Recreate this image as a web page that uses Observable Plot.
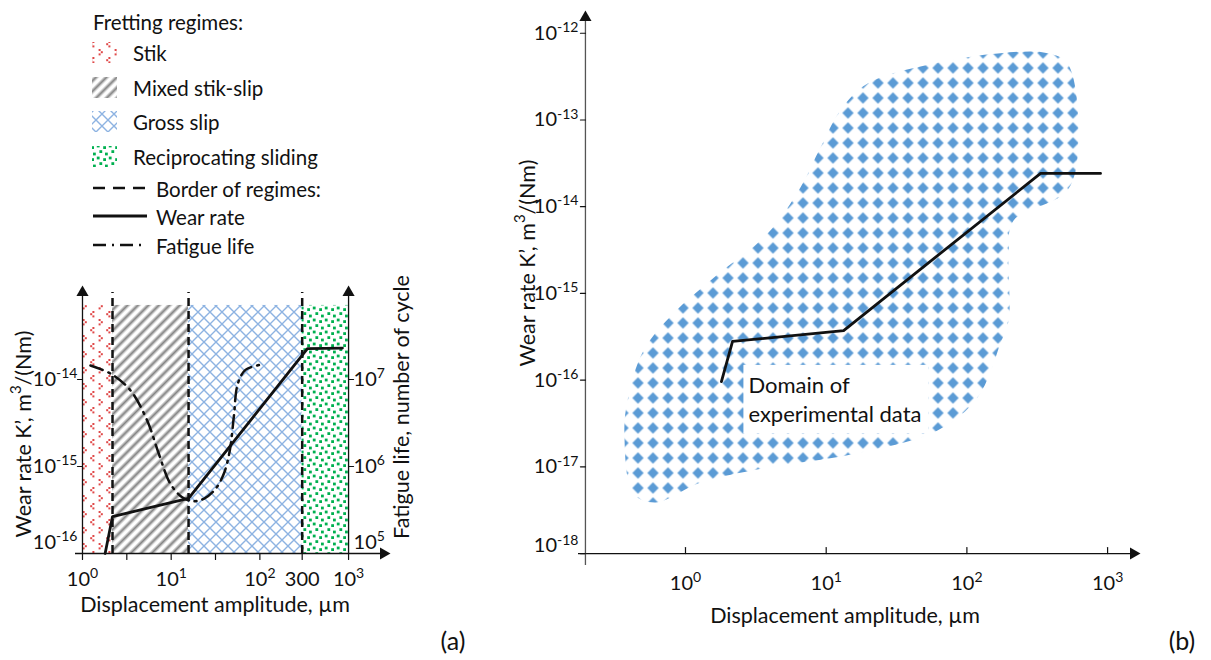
<!DOCTYPE html>
<html><head><meta charset="utf-8">
<script src="https://cdn.jsdelivr.net/npm/d3@7"></script>
<script src="https://cdn.jsdelivr.net/npm/@observablehq/plot@0.6"></script>
<style>
body{margin:0;background:#fff;}
#fig{position:relative;width:1211px;height:660px;overflow:hidden;background:#fff;font-family:Lato,sans-serif;}
#fig > svg{position:absolute;}
</style></head><body>
<svg width="0" height="0" style="position:absolute;left:0;top:0">
<defs>
  <pattern id="pStik" patternUnits="userSpaceOnUse" width="16" height="16">
    <rect width="16" height="16" fill="#fff"/>
    <g fill="#e04848">
      <rect x="2.6" y="1" width="2" height="2"/><rect x="4.8" y="3.2" width="2" height="2"/><rect x="2.6" y="5.4" width="2" height="2"/>
      <rect x="12.4" y="9" width="2" height="2"/><rect x="10.2" y="11.2" width="2" height="2"/><rect x="12.4" y="13.4" width="2" height="2"/>
    </g>
  </pattern>
  <linearGradient id="gStripe" x1="0" x2="1" y1="0" y2="0">
    <stop offset="0" stop-color="#fff"/><stop offset="0.2" stop-color="#fff"/>
    <stop offset="0.55" stop-color="#808080"/>
    <stop offset="0.9" stop-color="#fff"/><stop offset="1" stop-color="#fff"/>
  </linearGradient>
  <pattern id="pMixed" patternUnits="userSpaceOnUse" width="7.4" height="7.4" patternTransform="rotate(45)">
    <rect width="7.4" height="7.4" fill="url(#gStripe)"/>
  </pattern>
  <pattern id="pGross" patternUnits="userSpaceOnUse" width="12" height="12">
    <rect width="12" height="12" fill="#fff"/>
    <path d="M0,0L12,12M12,0L0,12" stroke="#8db3e2" stroke-width="1.4" fill="none"/>
  </pattern>
  <pattern id="pRecip" patternUnits="userSpaceOnUse" width="12" height="12">
    <rect width="12" height="12" fill="#fff"/>
    <g fill="#00b050">
      <rect x="0.8" y="0.6" width="2.8" height="2.8"/><rect x="7.2" y="2.2" width="2.8" height="2.8"/>
      <rect x="3.4" y="6.2" width="2.8" height="2.8"/><rect x="9" y="8.6" width="2.8" height="2.8"/>
    </g>
  </pattern>
  <pattern id="pDiamond" patternUnits="userSpaceOnUse" width="15" height="15">
    <polygon points="7.5,1.8 13.2,7.5 7.5,13.2 1.8,7.5" fill="#5b9bd5"/>
  </pattern>
</defs></svg>
<div id="fig"></div>
<script>
// ================= DATA =================
// Fretting regimes (panel a)
const regimeNames = ["Stik", "Mixed stik-slip", "Gross slip", "Reciprocating sliding"];
const regimeFrom  = [1, 2.18, 15.7, 300];        // displacement amplitude, µm
const regimeTo    = [2.18, 15.7, 300, 1000];
const regimeTop   = 7.1e-14;                     // wear-rate level of region tops
const regimeBorders = [2.18, 15.7, 300];

// Wear rate K' (panel a)
const wearA_disp = [1.8, 2.18, 15.7, 344, 853];
const wearA_rate = [1e-16, 2.66e-16, 4.3e-16, 2.27e-14, 2.3e-14];

// Fatigue life (panel a, right axis)
const fatigue_disp   = [1.23, 2.16, 3.48, 5.36, 7.25, 9.8, 13.3, 17.3, 23.3, 31.6, 39.2, 45.8, 50.8, 56.4, 68.8, 101.6];
const fatigue_cycles = [1.45e7, 1.14e7, 7.48e6, 3.38e6, 1.40e6, 6.32e5, 4.44e5, 3.99e5, 4.25e5, 5.53e5, 8.24e5, 1.53e6, 3.69e6, 8.93e6, 1.29e7, 1.476e7];

// Panel a ticks
const xTicksA    = [1, 3.16, 10, 31.6, 100, 300, 1000];
const xLabelValA = [1, 10, 100, 300, 1000];
const xLabelTxtA = ["10^{0}", "10^{1}", "10^{2}", "300", "10^{3}"];
const yTicksA    = [1e-16, 1e-15, 1e-14];
const yLabelTxtA = ["10^{-16}", "10^{-15}", "10^{-14}"];
const fatigueTicks    = [1e5, 1e6, 1e7];
const fatigueLabelTxt = ["10^{5}", "10^{6}", "10^{7}"];

// Wear rate K' (panel b)
const wearB_disp = [1.8, 2.16, 13.3, 334, 891];
const wearB_rate = [9.6e-17, 2.79e-16, 3.73e-16, 2.42e-14, 2.42e-14];

// Domain of experimental data (panel b), outline
const domainDisp = [0.612, 0.427, 0.368, 0.387, 0.503, 0.822, 1.58, 3.83, 6.56, 9.1, 12.6, 19.7, 57.9, 173, 374, 519, 621, 519, 214, 198, 198, 173, 119, 61.8, 15.6, 3.83, 1.28];
const domainRate = [3.89e-18, 4.9e-18, 2.4e-17, 5.8e-17, 2.19e-16, 5.9e-16, 1.51e-15, 4.9e-15, 1.66e-14, 4.8e-14, 1.29e-13, 2.63e-13, 4.47e-13, 5.9e-13, 5.9e-13, 4.47e-13, 6.3e-14, 1.55e-14, 6.9e-15, 2.88e-15, 4.9e-16, 2.63e-16, 6.3e-17, 2.63e-17, 1.41e-17, 9.8e-18, 6.6e-18];
const domainLabel = "Domain of\nexperimental data";
const domainLabelAt = {disp: 2.8, rate: 6.2e-17};

// Panel b ticks
const xTicksB    = [1, 10, 100, 1000];
const xLabelTxtB = ["10^{0}", "10^{1}", "10^{2}", "10^{3}"];
const yTicksB    = [1e-18, 1e-17, 1e-16, 1e-15, 1e-14, 1e-13, 1e-12];
const yLabelTxtB = ["10^{-18}", "10^{-17}", "10^{-16}", "10^{-15}", "10^{-14}", "10^{-13}", "10^{-12}"];

// Texts
const legendTitle = "Fretting regimes:";
const lineLegend = ["Border of regimes:", "Wear rate", "Fatigue life"];
const xTitle = "Displacement amplitude, µm";
const yTitle = "Wear rate K’, m^{3}/(Nm)";
const y2Title = "Fatigue life, number of cycle";
const panelTags = ["(a)", "(b)"];

// Scale extents
const xExtentA = [0.834, 2477], wearExtentA = [1e-16, 1e-13], fatigueExtent = [1e5, 1e8];
const xExtentB = [0.1736, 1528], wearExtentB = [7.28e-19, 1.52e-12];
const yAxisAtB = 0.1945, xAxisAtB = 1e-18;

// ================= BUILD =================
const INK = "#111";
const patternIds = ["pStik", "pMixed", "pGross", "pRecip"];
const regimes = regimeNames.map((name, i) => ({name, from: regimeFrom[i], to: regimeTo[i], pat: patternIds[i]}));
const wearA = wearA_disp.map((d, i) => ({d, k: wearA_rate[i]}));
const fatigue = fatigue_disp.map((d, i) => ({d, n: fatigue_cycles[i]}));
const wearB = wearB_disp.map((d, i) => ({d, k: wearB_rate[i]}));
const domain = domainDisp.map((d, i) => ({d, k: domainRate[i]}));

const style = {fontFamily: "Lato, sans-serif", fontSize: "20px", color: INK, background: "transparent", overflow: "visible"};
const tickShape = {draw(ctx, l) { ctx.moveTo(0, 0); ctx.lineTo(0, -l); }};
const arrow = (x, y, rotate) => Plot.dot([[x, y]], {x: d => d[0], y: d => d[1], symbol: "triangle", r: 4.5, fill: INK, rotate});

const fig = document.getElementById("fig");
function place(el, left, top) { el.style.left = left + "px"; el.style.top = top + "px"; fig.appendChild(el); }

// ---- Panel (a): wear rate ----
const dimsA = {width: 420, height: 340, marginLeft: 75, marginRight: 37, marginTop: 22, marginBottom: 57};
const plotA = Plot.plot({
  ...dimsA, style,
  x: {type: "log", domain: xExtentA, axis: null},
  y: {type: "log", domain: wearExtentA, axis: null},
  marks: [
    ...regimes.map(r => Plot.rect([r], {x1: "from", x2: "to", y1: wearExtentA[0], y2: regimeTop, fill: `url(#${r.pat})`})),
    Plot.ruleX(regimeBorders, {y1: wearExtentA[0], y2: wearExtentA[1], stroke: INK, strokeWidth: 2.5, strokeDasharray: "8,5"}),
    Plot.ruleY([wearExtentA[0]], {stroke: INK, strokeWidth: 1.3}),
    Plot.ruleX([1], {stroke: INK, strokeWidth: 1.3}),
    arrow(1, wearExtentA[1], 0),
    arrow(xExtentA[1], wearExtentA[0], 90),
    Plot.vector(xTicksA, {x: d => d, y: wearExtentA[0], length: 6, rotate: 180, anchor: "start", shape: tickShape, stroke: INK, strokeWidth: 1.2}),
    Plot.text(xLabelValA, {x: d => d, y: wearExtentA[0], text: (d, i) => xLabelTxtA[i], dy: 26, fill: INK}),
    Plot.vector(yTicksA, {x: 1, y: d => d, length: 5, rotate: -90, anchor: "start", shape: tickShape, stroke: INK, strokeWidth: 1.2}),
    Plot.text(yTicksA.slice(0, 1), {x: 1, y: d => d, text: (d, i) => yLabelTxtA[i], textAnchor: "end", dx: -5, dy: -11, fill: INK}),
    Plot.text(yTicksA.slice(1), {x: 1, y: d => d, text: (d, i) => yLabelTxtA[i + 1], textAnchor: "end", dx: -5, fill: INK}),
    Plot.line(wearA, {x: "d", y: "k", stroke: INK, strokeWidth: 2.8, strokeLinejoin: "round"})
  ]
});
place(plotA, 0, 270);

// ---- Panel (a): fatigue life (right axis) ----
const plotA2 = Plot.plot({
  ...dimsA, style,
  x: {type: "log", domain: xExtentA, axis: null},
  y: {type: "log", domain: fatigueExtent, axis: null},
  marks: [
    Plot.ruleX([1000], {stroke: INK, strokeWidth: 1.3}),
    arrow(1000, fatigueExtent[1], 0),
    Plot.vector(fatigueTicks, {x: 1000, y: d => d, length: 5, rotate: 90, anchor: "start", shape: tickShape, stroke: INK, strokeWidth: 1.2}),
    Plot.text(fatigueTicks.slice(0, 1), {x: 1000, y: d => d, text: (d, i) => fatigueLabelTxt[i], textAnchor: "start", dx: 5, dy: -11, fill: INK}),
    Plot.text(fatigueTicks.slice(1), {x: 1000, y: d => d, text: (d, i) => fatigueLabelTxt[i + 1], textAnchor: "start", dx: 5, fill: INK}),
    Plot.line(fatigue, {x: "d", y: "n", curve: "catmull-rom", stroke: INK, strokeWidth: 2.5, strokeDasharray: "13,6,2,6"})
  ]
});
place(plotA2, 0, 270);

// ---- Panel (b) ----
const plotB = Plot.plot({
  width: 731, height: 660, marginLeft: 98, marginRight: 78, marginTop: 17, marginBottom: 95, style,
  x: {type: "log", domain: xExtentB, axis: null},
  y: {type: "log", domain: wearExtentB, axis: null},
  marks: [
    Plot.line(domain, {x: "d", y: "k", curve: "catmull-rom-closed", fill: "url(#pDiamond)", stroke: "none"}),
    Plot.text([domainLabel], {x: domainLabelAt.disp, y: domainLabelAt.rate, text: d => d, textAnchor: "start", lineHeight: 1.33, fontSize: 22, fill: INK}),
    Plot.ruleY([xAxisAtB], {stroke: INK, strokeWidth: 1.3}),
    Plot.ruleX([yAxisAtB], {stroke: "#555", strokeWidth: 1.3}),
    arrow(yAxisAtB, wearExtentB[1], 0),
    arrow(xExtentB[1], xAxisAtB, 90),
    Plot.vector(xTicksB, {x: d => d, y: xAxisAtB, length: 6, rotate: 0, anchor: "start", shape: tickShape, stroke: INK, strokeWidth: 1.2}),
    Plot.text(xTicksB, {x: d => d, y: xAxisAtB, text: (d, i) => xLabelTxtB[i], dy: 30, fill: INK}),
    Plot.vector(yTicksB, {x: yAxisAtB, y: d => d, length: 5, rotate: -90, anchor: "start", shape: tickShape, stroke: INK, strokeWidth: 1.2}),
    Plot.text(yTicksB.slice(0, 1), {x: yAxisAtB, y: d => d, text: (d, i) => yLabelTxtB[i], textAnchor: "end", dx: -7, dy: -7.5, fill: INK}),
    Plot.text(yTicksB.slice(1), {x: yAxisAtB, y: d => d, text: (d, i) => yLabelTxtB[i + 1], textAnchor: "end", dx: -7, fill: INK}),
    Plot.line(wearB, {x: "d", y: "k", stroke: INK, strokeWidth: 2.8, strokeLinejoin: "round"})
  ]
});
place(plotB, 480, 0);

// white box behind the domain label
{
  const t = Array.from(plotB.querySelectorAll("text")).find(e => e.textContent.includes("Domain"));
  if (t) {
    const g = t.parentNode;
    const bb = t.getBBox();
    const r = document.createElementNS("http://www.w3.org/2000/svg", "rect");
    r.setAttribute("x", bb.x - 5); r.setAttribute("y", bb.y - 6);
    r.setAttribute("width", bb.width + 12); r.setAttribute("height", bb.height + 12);
    r.setAttribute("fill", "#fff");
    if (t.getAttribute("transform")) r.setAttribute("transform", t.getAttribute("transform"));
    g.insertBefore(r, t);
  }
}

// ---- Overlay: legend, axis titles, panel tags ----
const ov = d3.create("svg").attr("width", 1211).attr("height", 660)
  .style("font-family", "Lato, sans-serif").style("font-size", "20.5px").attr("fill", INK);
ov.append("text").attr("x", 93).attr("y", 22).attr("dominant-baseline", "central").text(legendTitle);
const swatchTop = [42, 77, 111, 146];
regimes.forEach((r, i) => {
  ov.append("rect").attr("x", 92).attr("y", swatchTop[i]).attr("width", 25).attr("height", 21).attr("fill", `url(#${r.pat})`);
  ov.append("text").attr("x", 133).attr("y", swatchTop[i] + 10.5).attr("dominant-baseline", "central").text(r.name);
});
const lineRows = [188, 216, 245];
const lineDash = ["12,8", null, "13,6,2,6"];
lineLegend.forEach((name, i) => {
  ov.append("line").attr("x1", 93).attr("x2", 147).attr("y1", lineRows[i]).attr("y2", lineRows[i])
    .attr("stroke", INK).attr("stroke-width", i === 1 ? 3 : 2.5).attr("stroke-dasharray", lineDash[i]);
  ov.append("text").attr("x", 156).attr("y", lineRows[i] + 1).attr("dominant-baseline", "central").text(name);
});
const titles = ov.append("g").style("font-size", "21.5px");
titles.append("text").attr("x", 215).attr("y", 604).attr("text-anchor", "middle").attr("dominant-baseline", "central").text(xTitle);
titles.append("text").attr("transform", "translate(23,434) rotate(-90)").attr("text-anchor", "middle").attr("dominant-baseline", "central").text(yTitle);
titles.append("text").attr("transform", "translate(401,407) rotate(-90)").attr("text-anchor", "middle").attr("dominant-baseline", "central").text(y2Title);
titles.append("text").attr("x", 845).attr("y", 615).attr("text-anchor", "middle").attr("dominant-baseline", "central").text(xTitle);
titles.append("text").attr("transform", "translate(527,263) rotate(-90)").attr("text-anchor", "middle").attr("dominant-baseline", "central").text(yTitle);
ov.append("text").attr("x", 453).attr("y", 640).attr("text-anchor", "middle").attr("dominant-baseline", "central").style("font-size", "25px").text(panelTags[0]);
ov.append("text").attr("x", 1182).attr("y", 640).attr("text-anchor", "middle").attr("dominant-baseline", "central").style("font-size", "25px").text(panelTags[1]);
place(ov.node(), 0, 0);

// ---- superscripts: "a^{b}" -> tspans ----
function supify(root) {
  const els = Array.from(root.querySelectorAll("text, tspan")).filter(e => e.childElementCount === 0 && e.textContent.includes("^{"));
  for (const el of els) {
    const s = el.textContent; el.textContent = "";
    const re = /\^\{([^}]*)\}/g; let last = 0, m, raised = false;
    const add = (str, sup) => {
      const t = document.createElementNS("http://www.w3.org/2000/svg", "tspan");
      t.textContent = str;
      if (sup) { t.style.fontSize = "0.7em"; t.setAttribute("dy", "-0.55em"); raised = true; }
      else if (raised) { t.setAttribute("dy", "0.385em"); raised = false; }
      el.appendChild(t);
    };
    while ((m = re.exec(s))) { if (m.index > last) add(s.slice(last, m.index), false); add(m[1], true); last = re.lastIndex; }
    if (last < s.length) add(s.slice(last), false);
  }
}
supify(fig);
</script>
</body></html>
